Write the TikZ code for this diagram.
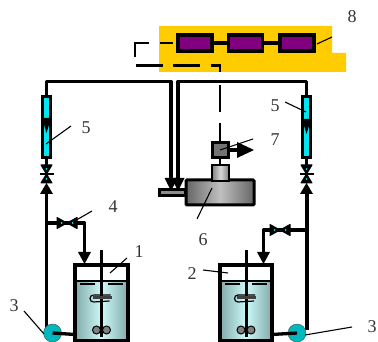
\documentclass[tikz,border=0pt]{standalone}
\usepackage{fontspec}
\setmainfont{Liberation Serif}
\definecolor{yel}{RGB}{255,204,0}
\definecolor{pur}{RGB}{128,0,128}
\definecolor{cy}{RGB}{0,230,240}
\definecolor{wdark}{RGB}{130,170,170}
\definecolor{wlight}{RGB}{205,250,250}
\tikzset{
 pipe/.style={line width=3.3pt,draw=black},
 dashp/.style={line width=2.8pt,draw=black},
 lead/.style={line width=1.1pt,draw=black},
 lab/.style={font=\fontsize{18}{18}\selectfont,text=black!80,inner sep=0pt},
 pbox/.style={draw=black,line width=3.2pt,fill=pur,inner sep=0pt,minimum width=34pt,minimum height=16pt},
 meter/.style={draw=black,line width=3pt,fill=cy,inner sep=0pt,minimum width=8.5pt,minimum height=61pt},
 pumpn/.style={circle,draw=black!70,line width=0.4pt,fill=cy!80!black,inner sep=0pt,minimum size=18pt},
 tip/.style={fill=black,draw=none},
 pick/.style={fill=cy,draw=none},
}
\newcommand{\vvalve}[2]{%
 \fill[black,draw=black,line width=1pt,line join=round] (#1-5.5,#2-9)--(#1+5.5,#2-9)--(#1-5.5,#2+9)--(#1+5.5,#2+9)--cycle;
 \fill[pick] (#1,#2-5) circle (1pt);\fill[pick] (#1,#2+5) circle (1pt);
 \draw[lead] (#1-7,#2)--(#1+7,#2);}
\newcommand{\hvalve}[2]{%
 \fill[black,draw=black,line width=1pt,line join=round] (#1-10,#2-5.5)--(#1-10,#2+5.5)--(#1+10,#2-5.5)--(#1+10,#2+5.5)--cycle;
 \fill[pick] (#1-5.5,#2) circle (1pt);\fill[pick] (#1+5.5,#2) circle (1pt);}
\newcommand{\tank}[3]{%
 \shade[left color=wdark,right color=wdark,middle color=wlight] (#1,281)rectangle(#2,340.5);
 \draw[line width=3.2pt,line join=miter] (#1,340.5)--(#1,265)--(#2,265)--(#2,340.5)--cycle;
 \draw[line width=2.4pt] (#1,281)--(#2,281);
 \draw[line width=1pt] (#1+5,284)--(#1+20,284) (#2-20,284)--(#2-5,284);
 \draw[line width=3pt] ({(#1+#2)/2},250)--({(#1+#2)/2},337);
 \fill[black!75] ({(#1+#2)/2-9},296)rectangle({(#1+#2)/2+10},299);
 \draw[line width=1.2pt] ({(#1+#2)/2-8},295)--({(#1+#2)/2+9},295) ({(#1+#2)/2-8},302)--({(#1+#2)/2+8},301);
 \draw[line width=1.2pt] ({(#1+#2)/2-8},295) arc (90:270:3.5pt);
 \fill[black!50,draw=black,line width=1pt] ({(#1+#2)/2-5},330) circle (4pt);
 \fill[black!50,draw=black,line width=1pt] ({(#1+#2)/2+5},330) circle (4pt);
 \draw[line width=2.4pt] ({(#1+#2)/2},322)--({(#1+#2)/2},337);}
\begin{document}
\begin{tikzpicture}[x=1pt,y=-1pt]
\useasboundingbox (0,0) rectangle (378,342);
% controller panel
\fill[yel] (159,26)--(332,26)--(332,53)--(346,53)--(346,72)--(159,72)--cycle;
\node[pbox] (b1) at (195,43) {};
\node[pbox] (b2) at (245.5,43) {};
\node[pbox] (b3) at (297,43) {};
\draw[pipe] (b1)--(b2) (b2)--(b3);
% dashed signal line
\coordinate (d1) at (135,43);
\coordinate (d3) at (220,65.5);
\coordinate (d4) at (220,142);
\draw[dashp] (160,43)--(173,43);
\draw[dashp] (149,43)--(d1)--(135,57);
\draw[dashp] (136,65.5)--(163,65.5) (173,65.5)--(200,65.5) (211,65.5)--(d3)--(220,72);
\draw[line width=2.6pt] (220,85)--(220,112) (220,123)--(d4);
% device 6
\shade[left color=black!60,right color=black!60,middle color=black!25] (186,180) rectangle (254,205);
\draw[draw=black,line width=3pt,rounded corners=1pt] (186,180) rectangle (254,205);
\node[draw=black,line width=2.8pt,fill=black!45,minimum width=26pt,minimum height=6.5pt,inner sep=0pt] (bar) at (172.5,192.5) {};
\shade[left color=black!50,right color=black!50,middle color=black!15] (212,165) rectangle (229,181);
\draw[line width=2.8pt] (212,165) rectangle (229,181);
\draw[line width=2.6pt] (220,158)--(220,165);
\node[draw=black,line width=2.4pt,fill=black!55,minimum width=16pt,minimum height=15pt,inner sep=0pt] (b7) at (220.5,150) {};
\draw[line width=4pt] (b7.east)--(240,150);
\fill[tip] (237,142)--(254,150)--(237,158)--cycle;
% pipes
\coordinate (lt) at (46.5,81.5);\coordinate (lt2) at (171,81.5);
\coordinate (rt) at (306.5,81.5);\coordinate (rt2) at (178,81.5);
\node[meter] (m1) at (46.5,127) {};
\node[meter] (m2) at (306.5,127.5) {};
\draw[pipe,line join=round] (m1.north)--(lt)--(lt2)--(171,178);
\draw[pipe,line join=round] (m2.north)--(rt)--(rt2)--(178,178);
\fill[tip] (164.5,178)--(177.5,178)--(171,191)--cycle;
\fill[tip] (171.5,178)--(184.5,178)--(178,191)--cycle;
\fill[black] (42,118)--(51,118)--(46.5,133)--cycle;
\fill[black] (302,119)--(311,119)--(306.5,134)--cycle;
\draw[pipe] (m1.south)--(46.5,166) (m2.south)--(306.5,166);
\vvalve{46.5}{174}
\vvalve{306.5}{174}
\fill[tip] (40,194)--(53,194)--(46.5,183)--cycle;
\fill[tip] (300,194)--(313,194)--(306.5,183)--cycle;
% tanks
\tank{75}{128}{a}
\tank{220}{272}{b}
\coordinate (t1) at (75,334.5);
\coordinate (t2) at (272,334.5);
\draw[pipe] (46.5,194)--(46.5,329);
\draw[pipe] (307,194)--(307,330);
\node[pumpn] (p1) at (52.5,333) {};
\node[pumpn] (p2) at (297,333) {};
\draw[pipe] (t1)--(p1.center);
\draw[pipe] (t2)--(p2.center);
% branches
\draw[pipe,line join=round] (46.5,223)--(84.5,223)--(84.5,252);
\draw[pipe,line join=round] (307,230)--(263.5,230)--(263.5,252);
\fill[tip] (78,252)--(91,252)--(84.5,264)--cycle;
\fill[tip] (257,252)--(270,252)--(263.5,264)--cycle;
\hvalve{67}{223}
\hvalve{280}{230}
% labels
\node[lab] (l8) at (352,17) {8};
\node[lab] (l7) at (275,140) {7};
\node[lab] (l6) at (203,240) {6};
\node[lab] (l5a) at (86,128) {5};
\node[lab] (l5b) at (275,106) {5};
\node[lab] (l4) at (113,207) {4};
\node[lab] (l1) at (139,252) {1};
\node[lab] (l2) at (192,274) {2};
\node[lab] (l3a) at (14,306) {3};
\node[lab] (l3b) at (372,327) {3};
\draw[lead] (317,44)--(332,37);
\draw[lead] (220,150)--(253,139);
\draw[lead] (212,188)--(197,219);
\draw[lead] (46,144)--(71,126);
\draw[lead] (285,102)--(306,112);
\draw[lead] (73,222)--(92,211);
\draw[lead] (110,273)--(127,258);
\draw[lead] (203,270)--(228,273);
\draw[lead] (24,311)--(44,334);
\draw[lead] (305,335)--(352,327);
\end{tikzpicture}
\end{document}
